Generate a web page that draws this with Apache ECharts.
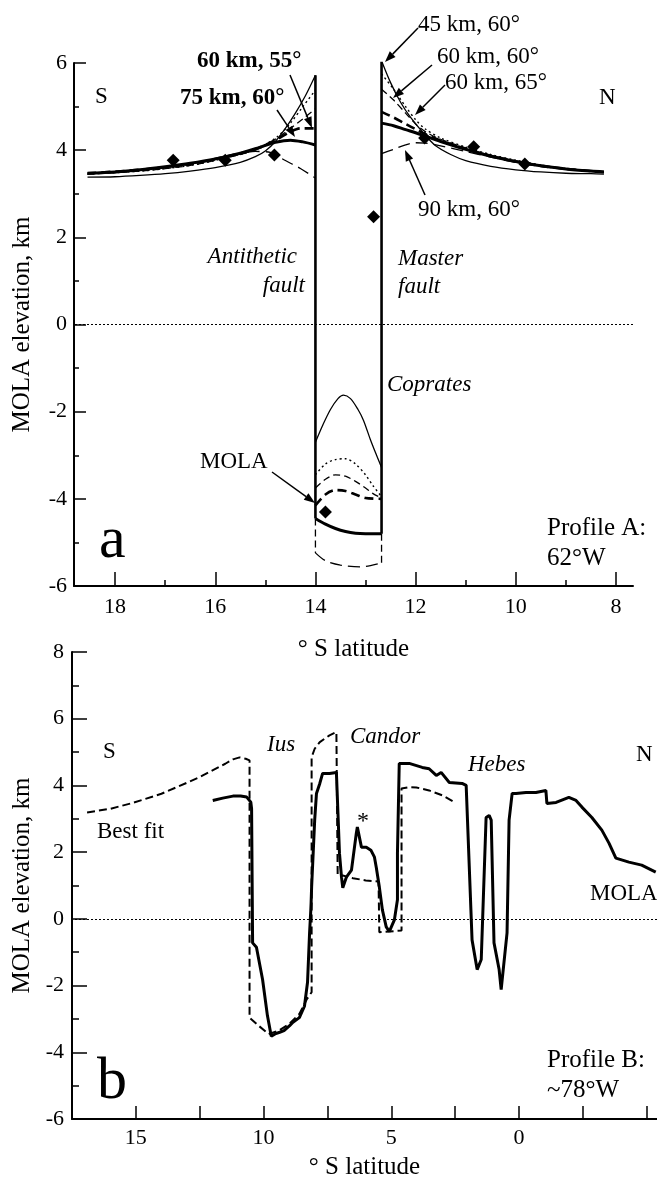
<!DOCTYPE html>
<html><head><meta charset="utf-8">
<script src="https://cdn.jsdelivr.net/npm/echarts@6/dist/echarts.min.js"></script>
<style>html,body{margin:0;padding:0;background:#fff}#c{width:657px;height:1181px}</style>
</head><body><div id="c"></div>
<script>
// ---------- Panel a : Profile A (62°W) ----------
const latTicksA = [8, 10, 12, 14, 16, 18];
const latMinorA = [9, 11, 13, 15, 17];
// model 45 km, 60°
const m45_left = [[18.55,3.38],[18,3.39],[17.5,3.42],[17,3.46],[16.5,3.52],[16,3.6],[15.5,3.72],[15.2,3.85],[15,3.98],[14.8,4.2],[14.6,4.5],[14.4,4.85],[14.2,5.25],[14.0,5.72]];
const m45_trough = [[14,-2.7],[13.85,-2.3],[13.7,-1.95],[13.55,-1.7],[13.44,-1.62],[13.3,-1.7],[13.15,-1.95],[13.04,-2.2],[12.9,-2.65],[12.78,-3.0],[12.68,-3.28]];
const m45_right = [[12.68,6.05],[12.5,5.55],[12.3,5.1],[12.1,4.75],[11.85,4.4],[11.6,4.1],[11.3,3.9],[11,3.76],[10.5,3.63],[10,3.55],[9.5,3.5],[9,3.47],[8.5,3.46],[8.24,3.45]];
// model 60 km, 60°
const m6060_left = [[18.55,3.45],[17.5,3.52],[16.5,3.65],[15.8,3.82],[15.2,4.0],[14.8,4.25],[14.5,4.5],[14.25,4.72],[14.0,4.95]];
const m6060_trough = [[14,-3.75],[13.8,-3.55],[13.6,-3.45],[13.4,-3.48],[13.2,-3.6],[13.0,-3.75],[12.85,-3.88],[12.68,-3.98]];
const m6060_right = [[12.68,5.4],[12.44,5.15],[12.2,4.85],[12.0,4.6],[11.8,4.42],[11.5,4.25],[11,4.05],[10.5,3.88],[10,3.75],[9.5,3.65],[9,3.57],[8.24,3.5]];
// model 60 km, 65°
const m6065_left = [[18.55,3.45],[17.5,3.52],[16.5,3.65],[15.8,3.82],[15.2,4.02],[14.77,4.3],[14.5,4.62],[14.25,5.0],[14.0,5.38]];
const m6065_trough = [[14,-3.45],[13.8,-3.2],[13.6,-3.1],[13.4,-3.08],[13.2,-3.2],[13.0,-3.45],[12.85,-3.7],[12.68,-3.95]];
const m6065_right = [[12.68,5.75],[12.44,5.4],[12.2,5.0],[12.0,4.7],[11.8,4.48],[11.5,4.28],[11,4.07],[10.5,3.9],[10,3.77],[9.5,3.66],[9,3.58],[8.24,3.5]];
// model 60 km, 55°
const m6055_left = [[18.55,3.47],[17.5,3.55],[16.5,3.68],[15.8,3.85],[15.2,4.02],[14.77,4.25],[14.5,4.42],[14.3,4.5],[14.0,4.5]];
const m6055_trough = [[14,-4.15],[13.8,-3.9],[13.6,-3.8],[13.4,-3.82],[13.2,-3.9],[13.0,-3.98],[12.68,-4.0]];
const m6055_right = [[12.68,4.88],[12.44,4.75],[12.2,4.6],[12.0,4.48],[11.8,4.36],[11.5,4.22],[11,4.03],[10.5,3.87],[10,3.74],[9.5,3.64],[9,3.57],[8.24,3.5]];
// model 75 km, 60°
const m75_left = [[18.55,3.47],[18,3.5],[17.5,3.55],[17,3.62],[16.5,3.7],[16,3.8],[15.5,3.93],[15.1,4.07],[14.8,4.18],[14.5,4.23],[14.25,4.19],[14.0,4.12]];
const m75_trough = [[14,-4.45],[13.8,-4.58],[13.6,-4.68],[13.4,-4.75],[13.2,-4.79],[13.0,-4.8],[12.68,-4.8]];
const m75_right = [[12.68,4.62],[12.44,4.56],[12.2,4.47],[12.0,4.4],[11.8,4.32],[11.5,4.2],[11,4.02],[10.5,3.86],[10,3.74],[9.5,3.64],[9,3.57],[8.5,3.52],[8.24,3.5]];
// model 90 km, 60°
const m90_left = [[18.55,3.45],[17.5,3.55],[16.5,3.68],[15.8,3.85],[15.2,3.97],[14.9,3.95],[14.63,3.78],[14.3,3.58],[14.0,3.36]];
const m90_trough = [[14,-5.24],[13.8,-5.42],[13.5,-5.52],[13.1,-5.56],[12.9,-5.53],[12.68,-5.47]];
const m90_right = [[12.68,3.92],[12.44,4.02],[12.2,4.12],[12.0,4.17],[11.8,4.16],[11.5,4.1],[11,3.97],[10.5,3.84],[10,3.72],[9.5,3.63],[9,3.56],[8.24,3.5]];
// fault walls
const wallAnti = [[14,5.72],[14,-4.45]];
const wallAntiLow = [[14,-4.45],[14,-5.24]];
const wallMaster = [[12.68,6.05],[12.68,-4.8]];
const wallMasterLow = [[12.68,-4.8],[12.68,-5.47]];
// MOLA points
const molaA = [[16.84,3.77],[15.8,3.77],[14.82,3.89],[13.8,-4.3],[12.84,2.47],[11.82,4.28],[10.84,4.08],[9.82,3.68]];

// ---------- Panel b : Profile B (~78°W) ----------
const latTicksB = [-5, -2.5, 0, 2.5, 5, 7.5, 10, 12.5, 15];
const latLabelsB = [0, 5, 10, 15];
const bestFitB = [[16.91,3.19],[16,3.3],[15.1,3.48],[14,3.75],[13,4.08],[12.5,4.25],[12,4.45],[11.5,4.65],[11.2,4.78],[10.94,4.84],[10.7,4.8],[10.55,4.75],[10.55,-2.96],[10.2,-3.2],[9.8,-3.45],[9.4,-3.35],[9,-3.15],[8.6,-2.85],[8.3,-2.4],[8.12,-2.2],[8.12,4.85],[8.0,5.1],[7.8,5.3],[7.42,5.5],[7.15,5.6],[7.1,5.6],[7.1,1.3],[6.9,1.3],[6.5,1.22],[6,1.15],[5.5,1.12],[5.47,1.12],[5.47,-0.4],[4.6,-0.35],[4.6,3.91],[4.3,3.95],[4.02,3.94],[3.52,3.85],[3.0,3.7],[2.54,3.5]];
const molaB = [[11.99,3.55],[11.6,3.62],[11.2,3.68],[10.9,3.68],[10.66,3.65],[10.5,3.5],[10.47,3.3],[10.43,-0.72],[10.28,-0.85],[10.04,-1.82],[9.85,-2.9],[9.7,-3.52],[9.55,-3.45],[9.37,-3.4],[9.2,-3.35],[8.98,-3.2],[8.85,-3.1],[8.6,-2.96],[8.4,-2.62],[8.28,-1.9],[8.2,-0.42],[8.15,0.3],[8.14,0.48],[8.12,0.95],[8.0,2.96],[7.93,3.76],[7.8,4.06],[7.69,4.36],[7.42,4.36],[7.15,4.39],[7.1,4.36],[7.03,1.97],[6.95,1.25],[6.9,0.93],[6.76,1.25],[6.56,1.46],[6.37,2.57],[6.33,2.75],[6.17,2.15],[5.98,2.15],[5.8,2.06],[5.66,1.85],[5.59,1.55],[5.47,0.96],[5.35,0.27],[5.2,-0.24],[5.08,-0.38],[4.88,-0.03],[4.76,0.57],[4.76,1.97],[4.69,4.66],[4.3,4.66],[3.79,4.54],[3.52,4.5],[3.24,4.3],[3.05,4.39],[2.73,4.09],[2.23,4.06],[2.07,4.0],[1.84,-0.63],[1.64,-1.52],[1.48,-1.22],[1.29,3.04],[1.17,3.1],[1.09,2.96],[0.98,-0.72],[0.78,-1.52],[0.7,-2.12],[0.66,-1.82],[0.47,-0.42],[0.39,2.96],[0.27,3.76],[0.12,3.76],[-0.27,3.79],[-0.66,3.79],[-1.05,3.85],[-1.09,3.46],[-1.45,3.49],[-1.95,3.64],[-2.23,3.55],[-2.46,3.35],[-2.85,3.04],[-3.24,2.66],[-3.52,2.27],[-3.79,1.82],[-4.3,1.7],[-4.8,1.61],[-5.35,1.4]];

// ---------- styles ----------
const SERIF = '"Liberation Serif","Times New Roman",serif';
const K = '#000';
const stThin = {color:K, width:1.3, type:'solid'};
const stDash = {color:K, width:1.3, type:[7,4]};
const stDot = {color:K, width:1.4, type:[2,3]};
const stHeavy = {color:K, width:2.6, type:[9,5]};
const stThick = {color:K, width:3, type:'solid'};
const stLong = {color:K, width:1.3, type:[12,6]};

function line(data, st, xi, yi, smooth) {
  return {type:'line', data:data, xAxisIndex:xi, yAxisIndex:yi, showSymbol:false, symbol:'none',
    smooth: smooth ? 0.3 : false, lineStyle:st, itemStyle:{color:K}, animation:false, silent:true, z:3};
}
const series = [];
[[m45_left,m45_trough,m45_right,stThin],[m6060_left,m6060_trough,m6060_right,stDash],
 [m6065_left,m6065_trough,m6065_right,stDot],[m6055_left,m6055_trough,m6055_right,stHeavy],
 [m75_left,m75_trough,m75_right,stThick],[m90_left,m90_trough,m90_right,stLong]].forEach(m => {
  series.push(line(m[0], m[3], 0, 0, true));
  series.push(line(m[1], m[3], 0, 0, true));
  series.push(line(m[2], m[3], 0, 0, true));
});
series.push(line(wallAnti, {color:K,width:2.6}, 0, 0, false));
series.push(line(wallAntiLow, {color:K,width:1.3,type:[7,4]}, 0, 0, false));
series.push(line(wallMaster, {color:K,width:2.6}, 0, 0, false));
series.push(line(wallMasterLow, {color:K,width:1.3,type:[7,4]}, 0, 0, false));
series.push({type:'scatter', data:molaA, xAxisIndex:0, yAxisIndex:0, symbol:'diamond', symbolSize:13,
  itemStyle:{color:K, opacity:1}, animation:false, silent:true, z:5,
  markLine:{silent:true, symbol:'none', label:{show:false}, animation:false,
    lineStyle:{color:K, width:1.2, type:[2,2]}, data:[{yAxis:0}]}});
// panel b
series.push(Object.assign(line(bestFitB, {color:K,width:2,type:[8,4]}, 2, 1, false), {
  markLine:{silent:true, symbol:'none', label:{show:false}, animation:false,
    lineStyle:{color:K, width:1.2, type:[2,2]}, data:[{yAxis:0}]}}));
series.push(line(molaB, {color:K,width:3}, 2, 1, false));

const axLine = {show:true, onZero:false, lineStyle:{color:K, width:2}};
const lab = {color:K, fontFamily:SERIF, fontSize:22};
const nameSt = {color:K, fontFamily:SERIF, fontSize:25};

const option = {
  animation:false,
  backgroundColor:'#fff',
  grid:[
    {left:74, top:63, width:559, height:523, containLabel:false},
    {left:72, top:652, width:585, height:468, containLabel:false}
  ],
  xAxis:[
    {type:'value', gridIndex:0, position:'bottom', min:7.66, max:18.82, inverse:true, axisLine:axLine,
     axisTick:{show:true, inside:true, length:14, lineStyle:{color:K,width:1.5}, customValues:latTicksA},
     axisLabel:{show:true, margin:10, customValues:latTicksA, ...lab},
     splitLine:{show:false},
     name:'° S latitude', nameLocation:'middle', nameGap:51, nameTextStyle:nameSt},
    {type:'value', gridIndex:0, position:'bottom', offset:0, min:7.66, max:18.82, inverse:true, axisLine:{show:false, onZero:false},
     axisTick:{show:true, inside:true, length:6, lineStyle:{color:K,width:1.5}, customValues:latMinorA},
     axisLabel:{show:false}, splitLine:{show:false}},
    {type:'value', gridIndex:1, position:'bottom', min:-5.4, max:17.5, inverse:true, axisLine:axLine,
     axisTick:{show:true, inside:true, length:13, lineStyle:{color:K,width:1.5}, customValues:latTicksB},
     axisLabel:{show:true, margin:8, customValues:latLabelsB, ...lab},
     splitLine:{show:false},
     name:'° S latitude', nameLocation:'middle', nameGap:36, nameTextStyle:nameSt}
  ],
  yAxis:[
    {type:'value', gridIndex:0, min:-6, max:6, interval:2, axisLine:axLine,
     axisTick:{show:true, inside:true, length:12, lineStyle:{color:K,width:1.5}},
     minorTick:{show:true, splitNumber:2, length:5, lineStyle:{color:K,width:1.5}},
     axisLabel:{margin:7, ...lab}, splitLine:{show:false}, minorSplitLine:{show:false},
     name:'MOLA elevation, km', nameLocation:'middle', nameGap:39, nameRotate:90, nameTextStyle:nameSt},
    {type:'value', gridIndex:1, min:-6, max:8, interval:2, axisLine:axLine,
     axisTick:{show:true, inside:true, length:15, lineStyle:{color:K,width:1.5}},
     minorTick:{show:true, splitNumber:2, length:7, lineStyle:{color:K,width:1.5}},
     axisLabel:{margin:8, ...lab}, splitLine:{show:false}, minorSplitLine:{show:false},
     name:'MOLA elevation, km', nameLocation:'middle', nameGap:37, nameRotate:90, nameTextStyle:nameSt}
  ],
  series:series,
  graphic:[]
};

// ---------- annotations ----------
function txt(s, x, y, size, opts) {
  opts = opts || {};
  const font = (opts.italic ? 'italic ' : '') + (opts.bold ? 'bold ' : '') + size + 'px ' + SERIF;
  const al = opts.align || 'left';
  return {type:'text', silent:true, z:10, style:{text:s, x:x, y:y, font:font, fill:K,
    textAlign:al, align:al, textVerticalAlign:'middle', verticalAlign:'middle'}};
}
function arrow(x1, y1, x2, y2) {
  const a = Math.atan2(y2 - y1, x2 - x1);
  const L = 11, W = 4;
  const bx = x2 - L * Math.cos(a), by = y2 - L * Math.sin(a);
  const px = -Math.sin(a) * W, py = Math.cos(a) * W;
  return [
    {type:'line', silent:true, z:10, shape:{x1:x1, y1:y1, x2:bx, y2:by}, style:{stroke:K, lineWidth:1.5}},
    {type:'polygon', silent:true, z:10, shape:{points:[[x2,y2],[bx+px,by+py],[bx-px,by-py]]}, style:{fill:K}}
  ];
}
const G = option.graphic;
// panel a texts
G.push(txt('S', 95, 97, 23));
G.push(txt('N', 599, 98, 23));
G.push(txt('60 km, 55°', 197, 61, 23, {bold:true}));
G.push(txt('75 km, 60°', 180, 98, 23, {bold:true}));
G.push(txt('45 km, 60°', 418, 25, 23));
G.push(txt('60 km, 60°', 437, 57, 23));
G.push(txt('60 km, 65°', 445, 83, 23));
G.push(txt('90 km, 60°', 418, 210, 23));
G.push(txt('Antithetic', 297, 257, 23, {italic:true, align:'right'}));
G.push(txt('fault', 305, 286, 23, {italic:true, align:'right'}));
G.push(txt('Master', 398, 259, 23, {italic:true}));
G.push(txt('fault', 398, 287, 23, {italic:true}));
G.push(txt('Coprates', 387, 385, 23, {italic:true}));
G.push(txt('MOLA', 200, 462, 23));
G.push(txt('a', 99, 541, 60));
G.push(txt('Profile A:', 547, 528, 25));
G.push(txt('62°W', 547, 558, 25));
// panel a arrows
[[290,75,312,128],[277,110,295,137],[418,28,385,62],[432,65,393,98],[445,85,415,115],[425,195,405,150],[272,472,315,503]]
  .forEach(a => arrow(a[0],a[1],a[2],a[3]).forEach(e => G.push(e)));
// panel b texts
G.push(txt('S', 103, 752, 23));
G.push(txt('Ius', 267, 745, 23, {italic:true}));
G.push(txt('Candor', 350, 737, 23, {italic:true}));
G.push(txt('Hebes', 468, 765, 23, {italic:true}));
G.push(txt('N', 636, 755, 23));
G.push(txt('*', 357, 822, 24));
G.push(txt('Best fit', 97, 832, 23));
G.push(txt('MOLA', 590, 894, 23));
G.push(txt('b', 97, 1082, 60));
G.push(txt('Profile B:', 547, 1060, 25));
G.push(txt('~78°W', 547, 1090, 25));

const chart = echarts.init(document.getElementById('c'), null, {renderer:'canvas'});
chart.setOption(option);
</script>
</body></html>
